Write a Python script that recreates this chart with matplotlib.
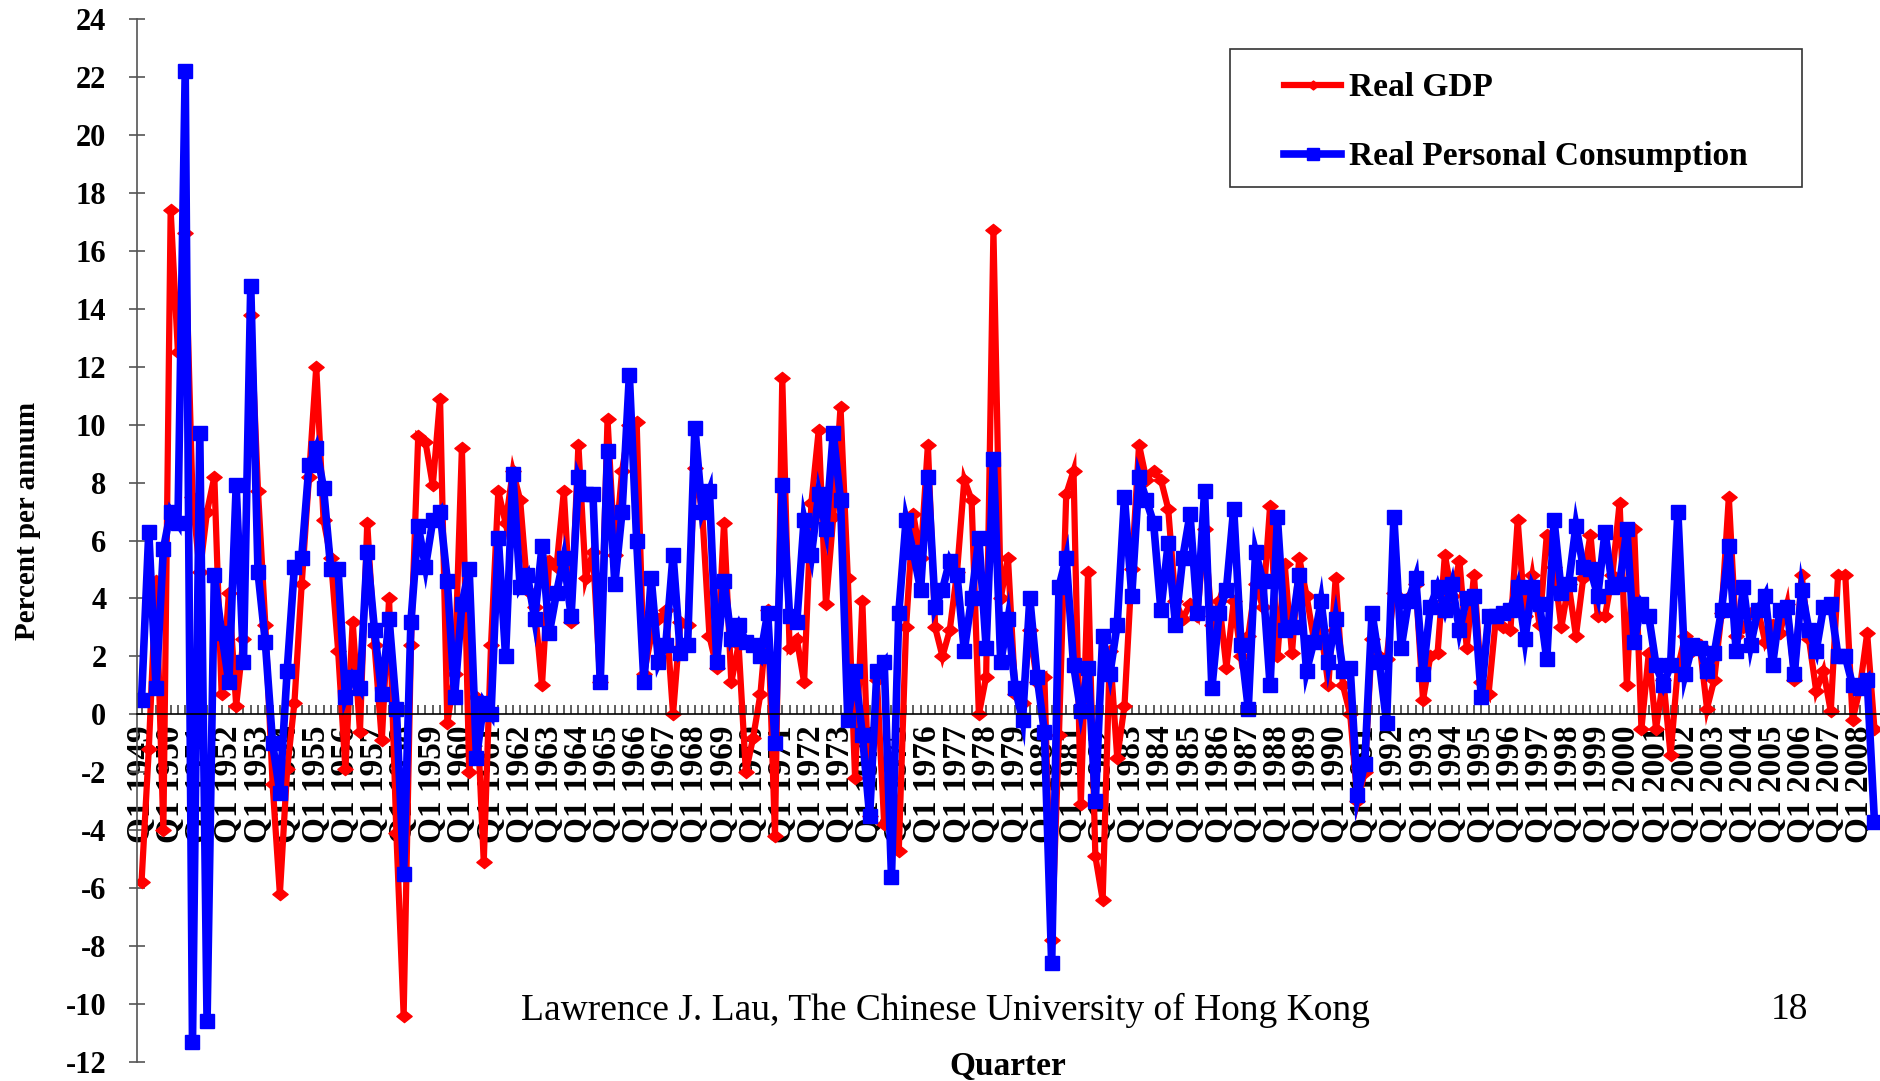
import numpy as np
import matplotlib.pyplot as plt
from matplotlib.path import Path
from matplotlib.patches import Rectangle

# quarterly growth, percent per annum, Q1 1949 .. Q3 2008
years = list(range(1949, 2009))
quarter_labels = ["Q1 %d" % y for y in years]

real_gdp = [
    -5.8, -1.2, 4.6, -4.0, 17.4, 12.5, 16.6, 7.5, 4.9, 7.0, 8.2, 0.7,
    4.2, 0.3, 2.6, 13.8, 7.7, 3.1, -2.4, -6.2, -1.9, 0.4, 4.5, 8.2,
    12.0, 6.7, 5.4, 2.2, -1.9, 3.2, -0.6, 6.6, 2.4, -0.9, 4.0, -4.1,
    -10.4, 2.4, 9.6, 9.4, 7.9, 10.9, -0.3, 1.4, 9.2, -2.0, 0.6, -5.1,
    2.4, 7.7, 6.6, 8.4, 7.4, 4.3, 3.7, 1.0, 5.3, 5.1, 7.7, 3.2,
    9.3, 4.7, 5.6, 1.1, 10.2, 5.5, 8.4, 10.0, 10.1, 1.4, 2.7, 3.3,
    3.6, 0.0, 3.2, 3.1, 8.5, 7.0, 2.7, 1.6, 6.6, 1.1, 2.4, -2.0,
    -0.8, 0.7, 3.6, -4.2, 11.6, 2.3, 2.6, 1.1, 7.3, 9.8, 3.8, 6.8,
    10.6, 4.7, -2.2, 3.9, -3.5, 1.2, -3.8, -1.6, -4.7, 3.0, 6.9, 5.4,
    9.3, 3.0, 2.0, 2.9, 4.9, 8.1, 7.4, 0.0, 1.3, 16.7, 4.0, 5.4,
    0.7, 0.4, 2.9, 1.1, 1.3, -7.8, -0.7, 7.6, 8.4, -3.1, 4.9, -4.9,
    -6.4, 2.2, -1.5, 0.3, 5.0, 9.3, 8.1, 8.4, 8.1, 7.1, 3.9, 3.3,
    3.8, 3.4, 6.4, 3.1, 3.9, 1.6, 3.9, 2.0, 2.7, 4.5, 3.7, 7.2,
    2.0, 5.2, 2.1, 5.4, 4.1, 2.6, 2.9, 1.0, 4.7, 1.0, 0.0, -3.0,
    -2.0, 2.6, 2.0, 1.9, 4.2, 3.9, 4.0, 4.5, 0.5, 2.0, 2.1, 5.5,
    4.1, 5.3, 2.3, 4.8, 1.1, 0.7, 3.3, 3.0, 2.9, 6.7, 3.4, 4.8,
    3.1, 6.2, 5.1, 3.0, 4.5, 2.7, 4.7, 6.2, 3.4, 3.4, 4.8, 7.3,
    1.0, 6.4, -0.5, 2.1, -0.5, 1.2, -1.4, 1.6, 2.7, 2.2, 2.4, 0.2,
    1.2, 3.5, 7.5, 2.7, 3.0, 3.5, 3.6, 2.5, 3.1, 2.8, 3.8, 1.2,
    4.8, 2.6, 0.8, 1.5, 0.1, 4.8, 4.8, -0.2, 0.9, 2.8, -0.5,
]

real_pce = [
    0.5, 6.3, 0.9, 5.7, 7.0, 6.6, 22.2, -11.3, 9.7, -10.6, 4.8, 2.8,
    1.1, 7.9, 1.8, 14.8, 4.9, 2.5, -1.0, -2.7, 1.5, 5.1, 5.4, 8.6,
    9.2, 7.8, 5.0, 5.0, 0.6, 1.3, 0.9, 5.6, 2.9, 0.7, 3.3, 0.2,
    -5.5, 3.2, 6.5, 5.1, 6.7, 7.0, 4.6, 0.6, 3.8, 5.0, -1.5, 0.4,
    0.0, 6.1, 2.0, 8.3, 4.4, 4.8, 3.3, 5.8, 2.8, 4.2, 5.4, 3.4,
    8.2, 7.6, 7.6, 1.1, 9.1, 4.5, 7.0, 11.7, 6.0, 1.1, 4.7, 1.8,
    2.4, 5.5, 2.1, 2.4, 9.9, 7.0, 7.7, 1.8, 4.6, 2.6, 3.1, 2.5,
    2.4, 2.0, 3.5, -1.0, 7.9, 3.4, 3.2, 6.7, 5.5, 7.6, 6.4, 9.7,
    7.4, -0.2, 1.5, -0.7, -3.5, 1.5, 1.8, -5.6, 3.5, 6.7, 5.6, 4.3,
    8.2, 3.7, 4.3, 5.3, 4.8, 2.2, 4.0, 6.1, 2.3, 8.8, 1.8, 3.3,
    0.9, -0.2, 4.0, 1.3, -0.6, -8.6, 4.4, 5.4, 1.7, 0.1, 1.6, -3.0,
    2.7, 1.4, 3.1, 7.5, 4.1, 8.2, 7.4, 6.6, 3.6, 5.9, 3.1, 5.4,
    6.9, 3.5, 7.7, 0.9, 3.5, 4.3, 7.1, 2.4, 0.2, 5.6, 4.6, 1.0,
    6.8, 2.9, 3.0, 4.8, 1.5, 2.5, 3.9, 1.8, 3.3, 1.5, 1.6, -2.8,
    -1.7, 3.5, 1.8, -0.3, 6.8, 2.3, 3.9, 4.7, 1.4, 3.7, 4.4, 3.6,
    4.5, 2.9, 4.0, 4.1, 0.6, 3.4, 3.4, 3.5, 3.6, 4.4, 2.6, 4.4,
    3.8, 1.9, 6.7, 4.2, 4.5, 6.5, 5.1, 5.0, 4.1, 6.3, 4.4, 4.5,
    6.4, 2.5, 3.8, 3.4, 1.7, 1.0, 1.7, 7.0, 1.4, 2.4, 2.3, 1.5,
    2.1, 3.6, 5.8, 2.2, 4.4, 2.4, 3.6, 4.1, 1.7, 3.6, 3.7, 1.4,
    4.3, 2.9, 2.2, 3.7, 3.8, 2.0, 2.0, 1.0, 0.9, 1.2, -3.7,
]

plt.rcParams['font.family'] = ['Liberation Serif', 'DejaVu Serif']
plt.rcParams['axes.unicode_minus'] = False

fig = plt.figure(figsize=(18.81, 10.81), dpi=100)
ax = fig.add_axes([0.0728, 0.01758, 0.9272, 0.96484])

x = np.arange(len(real_gdp))

# flat diamond like the spreadsheet marker
diamond = Path([(-1, 0), (0, 0.8), (1, 0), (0, -0.8), (-1, 0)],
               [Path.MOVETO, Path.LINETO, Path.LINETO, Path.LINETO, Path.CLOSEPOLY])

ax.plot(x, real_gdp, color='#FF0000', lw=4.5, marker=diamond, ms=11,
        label='Real GDP', solid_joinstyle='miter')
ax.plot(x, real_pce, color='#0000FF', lw=5.5, marker='s', ms=9.5,
        label='Real Personal Consumption', solid_joinstyle='miter')

ax.set_xlim(-0.63, 238.9)
ax.set_ylim(-12, 24)

for s in ['top', 'right']:
    ax.spines[s].set_visible(False)
ax.spines['bottom'].set_position(('data', 0))
ax.spines['bottom'].set_linewidth(1.2)
ax.spines['left'].set_color('#555555')
ax.spines['left'].set_linewidth(1.2)

ax.set_yticks(range(-12, 25, 2))
ax.tick_params(axis='y', direction='inout', length=12, width=1.2,
               color='#555555', pad=16, labelsize=22)
for lbl in ax.get_yticklabels():
    lbl.set_fontweight('bold')

ax.set_xticks(x[::4])
ax.set_xticklabels(quarter_labels, rotation=90, fontweight='bold', fontsize=24)
ax.set_xticks(x, minor=True)
ax.tick_params(axis='x', which='both', direction='in', length=6.5, width=1.2,
               color='#444444')
ax.tick_params(axis='x', which='major', pad=8)

leg = ax.legend(loc='upper left', bbox_to_anchor=(0.674, 0.9485),
                bbox_transform=fig.transFigure, frameon=False,
                prop={'weight': 'bold', 'size': 24}, handlelength=1.7,
                handletextpad=0.25, labelspacing=1.14, borderpad=0, numpoints=1)
for h in leg.legend_handles:
    h.set_markersize(8)

fig.patches.append(Rectangle((1230 / 1881, 1 - 187 / 1081), 572 / 1881, 138 / 1081,
                             transform=fig.transFigure, fill=False,
                             ec='#333333', lw=1.2))

fig.text(28 / 1881, 1 - 521 / 1081, 'Percent per annum', rotation=90,
         ha='center', va='center', fontsize=21, fontweight='bold')
fig.text(1008 / 1881, 1 - 1066 / 1081, 'Quarter', ha='center', va='center',
         fontsize=24, fontweight='bold')
fig.text(945 / 1881, 1 - 1010 / 1081,
         'Lawrence J. Lau, The Chinese University of Hong Kong',
         ha='center', va='center', fontsize=27)
fig.text(1789 / 1881, 1 - 1010 / 1081, '18', ha='center', va='center', fontsize=27)

fig.savefig('out.png', dpi=100)
